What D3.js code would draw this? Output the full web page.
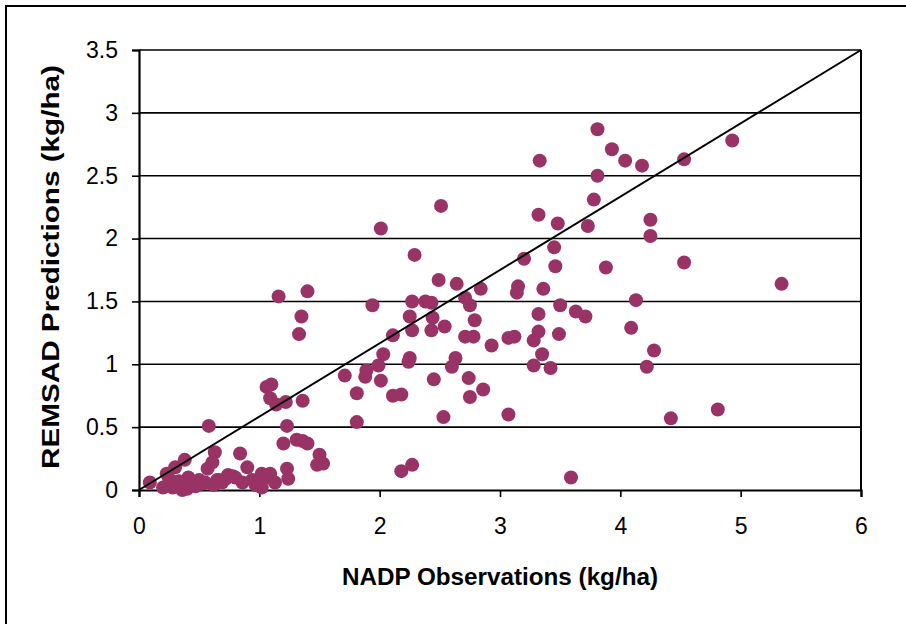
<!DOCTYPE html>
<html>
<head>
<meta charset="utf-8">
<script src="https://cdn.jsdelivr.net/npm/d3@7"></script>
<style>
  body { margin: 0; background: #fff; }
  text { font-family: "Liberation Sans", Arial, sans-serif; }
</style>
</head>
<body>
<div id="chart"></div>
<script>
// observed (NADP) values, kg/ha
var obs = [
  3.81, 3.93, 4.04, 4.18, 4.53, 4.93, 3.33, 3.81, 3.78, 3.32, 3.48, 3.73, 4.25, 4.25,
  3.45, 3.46, 3.88, 4.53, 5.34, 2.51, 2.01, 2.29, 3.20, 3.15, 3.36, 3.14, 4.13, 3.50,
  3.32, 3.63, 3.71, 3.32, 3.49, 4.09, 3.12, 3.07, 3.28, 3.35, 3.28, 3.42, 4.22, 4.28,
  4.42, 4.81, 3.07, 3.59,
  2.49, 2.64, 2.84, 2.27, 2.38, 2.43, 2.71, 2.75, 2.25, 2.44, 2.79, 2.54, 2.43, 2.27,
  2.11, 2.71, 2.78, 2.93, 2.25, 2.63, 2.60, 2.74, 2.45, 2.86, 2.75, 2.53, 2.24, 2.03,
  1.99, 2.01, 2.11, 2.18, 1.89, 1.88, 1.71, 1.94, 1.81, 1.81, 2.18, 2.27,
  1.16, 1.40, 1.35, 1.33, 1.36, 1.06, 1.10, 1.09, 1.14, 1.22, 1.23, 1.31, 1.40, 1.20,
  1.36, 1.48, 1.50, 1.53, 1.23, 1.24, 0.58, 0.63, 0.84, 0.90,
  0.09, 0.38, 0.30, 0.23, 0.20, 0.28, 0.36, 0.44, 0.52, 0.41, 0.61, 0.57, 0.66, 0.74,
  0.69, 0.86, 0.94, 1.02, 1.09, 1.13, 1.02, 0.65, 0.33, 0.47, 0.55, 0.80, 0.97, 0.25,
  0.40, 0.50, 0.62, 0.72, 0.78, 1.05
];
// predicted (REMSAD) values, kg/ha
var pred = [
  2.87, 2.71, 2.62, 2.58, 2.63, 2.78, 2.62, 2.50, 2.31, 2.19, 2.12, 2.10, 2.15, 2.02,
  1.93, 1.78, 1.77, 1.81, 1.64, 2.26, 2.08, 1.87, 1.84, 1.62, 1.60, 1.57, 1.51, 1.47,
  1.40, 1.42, 1.38, 1.26, 1.24, 1.29, 1.22, 1.21, 1.19, 1.08, 0.99, 0.97, 0.98, 1.11,
  0.57, 0.64, 0.60, 0.10,
  1.67, 1.64, 1.60, 1.50, 1.50, 1.49, 1.53, 1.47, 1.38, 1.37, 1.35, 1.30, 1.27, 1.27,
  1.23, 1.22, 1.22, 1.15, 1.05, 1.05, 0.98, 0.89, 0.88, 0.80, 0.74, 0.58, 1.02, 1.08,
  0.99, 0.87, 0.75, 0.76, 0.95, 0.90, 0.91, 1.47, 0.77, 0.54, 0.15, 0.20,
  1.54, 1.58, 1.38, 1.24, 0.71, 0.82, 0.84, 0.73, 0.68, 0.70, 0.51, 0.40, 0.37, 0.37,
  0.39, 0.20, 0.28, 0.21, 0.17, 0.09, 0.51, 0.30, 0.29, 0.18,
  0.06, 0.24, 0.18, 0.13, 0.02, 0.02, 0.00, 0.05, 0.05, 0.10, 0.22, 0.17, 0.08, 0.12,
  0.06, 0.06, 0.08, 0.13, 0.13, 0.06, 0.02, 0.08, 0.07, 0.03, 0.06, 0.10, 0.04, 0.09,
  0.01, 0.08, 0.04, 0.09, 0.11, 0.10
];
var xTicks = [0, 1, 2, 3, 4, 5, 6];
var yTicks = [0, 0.5, 1, 1.5, 2, 2.5, 3, 3.5];
var refLine = [[0, 0], [6, 3.5]];

var width = 906, height = 624;
var pLeft = 139, pRight = 861, pTop = 50, pBottom = 490;

var svg = d3.select("#chart").append("svg")
  .attr("width", width).attr("height", height);

svg.append("rect").attr("width", width).attr("height", height).attr("fill", "#fff");

// outer frame
svg.append("rect")
  .attr("x", 6).attr("y", 6).attr("width", 920).attr("height", 640)
  .attr("fill", "none").attr("stroke", "#000").attr("stroke-width", 2);

var x = d3.scaleLinear().domain([0, 6]).range([pLeft, pRight]);
var y = d3.scaleLinear().domain([0, 3.5]).range([pBottom, pTop]);

// horizontal gridlines
svg.append("g").selectAll("line")
  .data(yTicks.slice(1))
  .enter().append("line")
  .attr("x1", pLeft).attr("x2", pRight)
  .attr("y1", function(d) { return y(d); })
  .attr("y2", function(d) { return y(d); })
  .attr("stroke", "#000").attr("stroke-width", 1.6);

// right border
svg.append("line")
  .attr("x1", pRight).attr("x2", pRight).attr("y1", pTop).attr("y2", pBottom)
  .attr("stroke", "#000").attr("stroke-width", 2);

var xAxis = svg.append("g")
  .attr("transform", "translate(0," + pBottom + ")")
  .call(d3.axisBottom(x).tickValues(xTicks).tickSize(7).tickPadding(21).tickFormat(d3.format("d")));
var yAxis = svg.append("g")
  .attr("transform", "translate(" + pLeft + ",0)")
  .call(d3.axisLeft(y).tickValues(yTicks).tickSize(7).tickPadding(14).tickFormat(function(d) { return d; }));

[xAxis, yAxis].forEach(function(a) {
  a.select(".domain").attr("stroke-width", 2.2);
  a.selectAll(".tick line").attr("stroke-width", 1.6);
  a.selectAll("text").attr("font-size", 23).attr("fill", "#000")
    .attr("font-family", "'Liberation Sans', Arial, sans-serif");
});

// points
svg.append("g").selectAll("circle")
  .data(obs.map(function(d, i) { return [d, pred[i]]; }))
  .enter().append("circle")
  .attr("cx", function(d) { return x(d[0]); })
  .attr("cy", function(d) { return y(d[1]); })
  .attr("r", 7)
  .attr("fill", "#993366");

// reference line
svg.append("path")
  .datum(refLine)
  .attr("d", d3.line().x(function(d) { return x(d[0]); }).y(function(d) { return y(d[1]); }))
  .attr("stroke", "#000").attr("stroke-width", 2).attr("fill", "none");

svg.append("text")
  .attr("x", 500).attr("y", 585)
  .attr("text-anchor", "middle").attr("font-size", 23).attr("font-weight", "bold")
  .attr("textLength", 316).attr("lengthAdjust", "spacingAndGlyphs")
  .text("NADP Observations (kg/ha)");

svg.append("text")
  .attr("transform", "translate(59,267) rotate(-90)")
  .attr("text-anchor", "middle").attr("font-size", 23).attr("font-weight", "bold")
  .attr("textLength", 404).attr("lengthAdjust", "spacingAndGlyphs")
  .text("REMSAD Predictions (kg/ha)");
</script>
</body>
</html>
